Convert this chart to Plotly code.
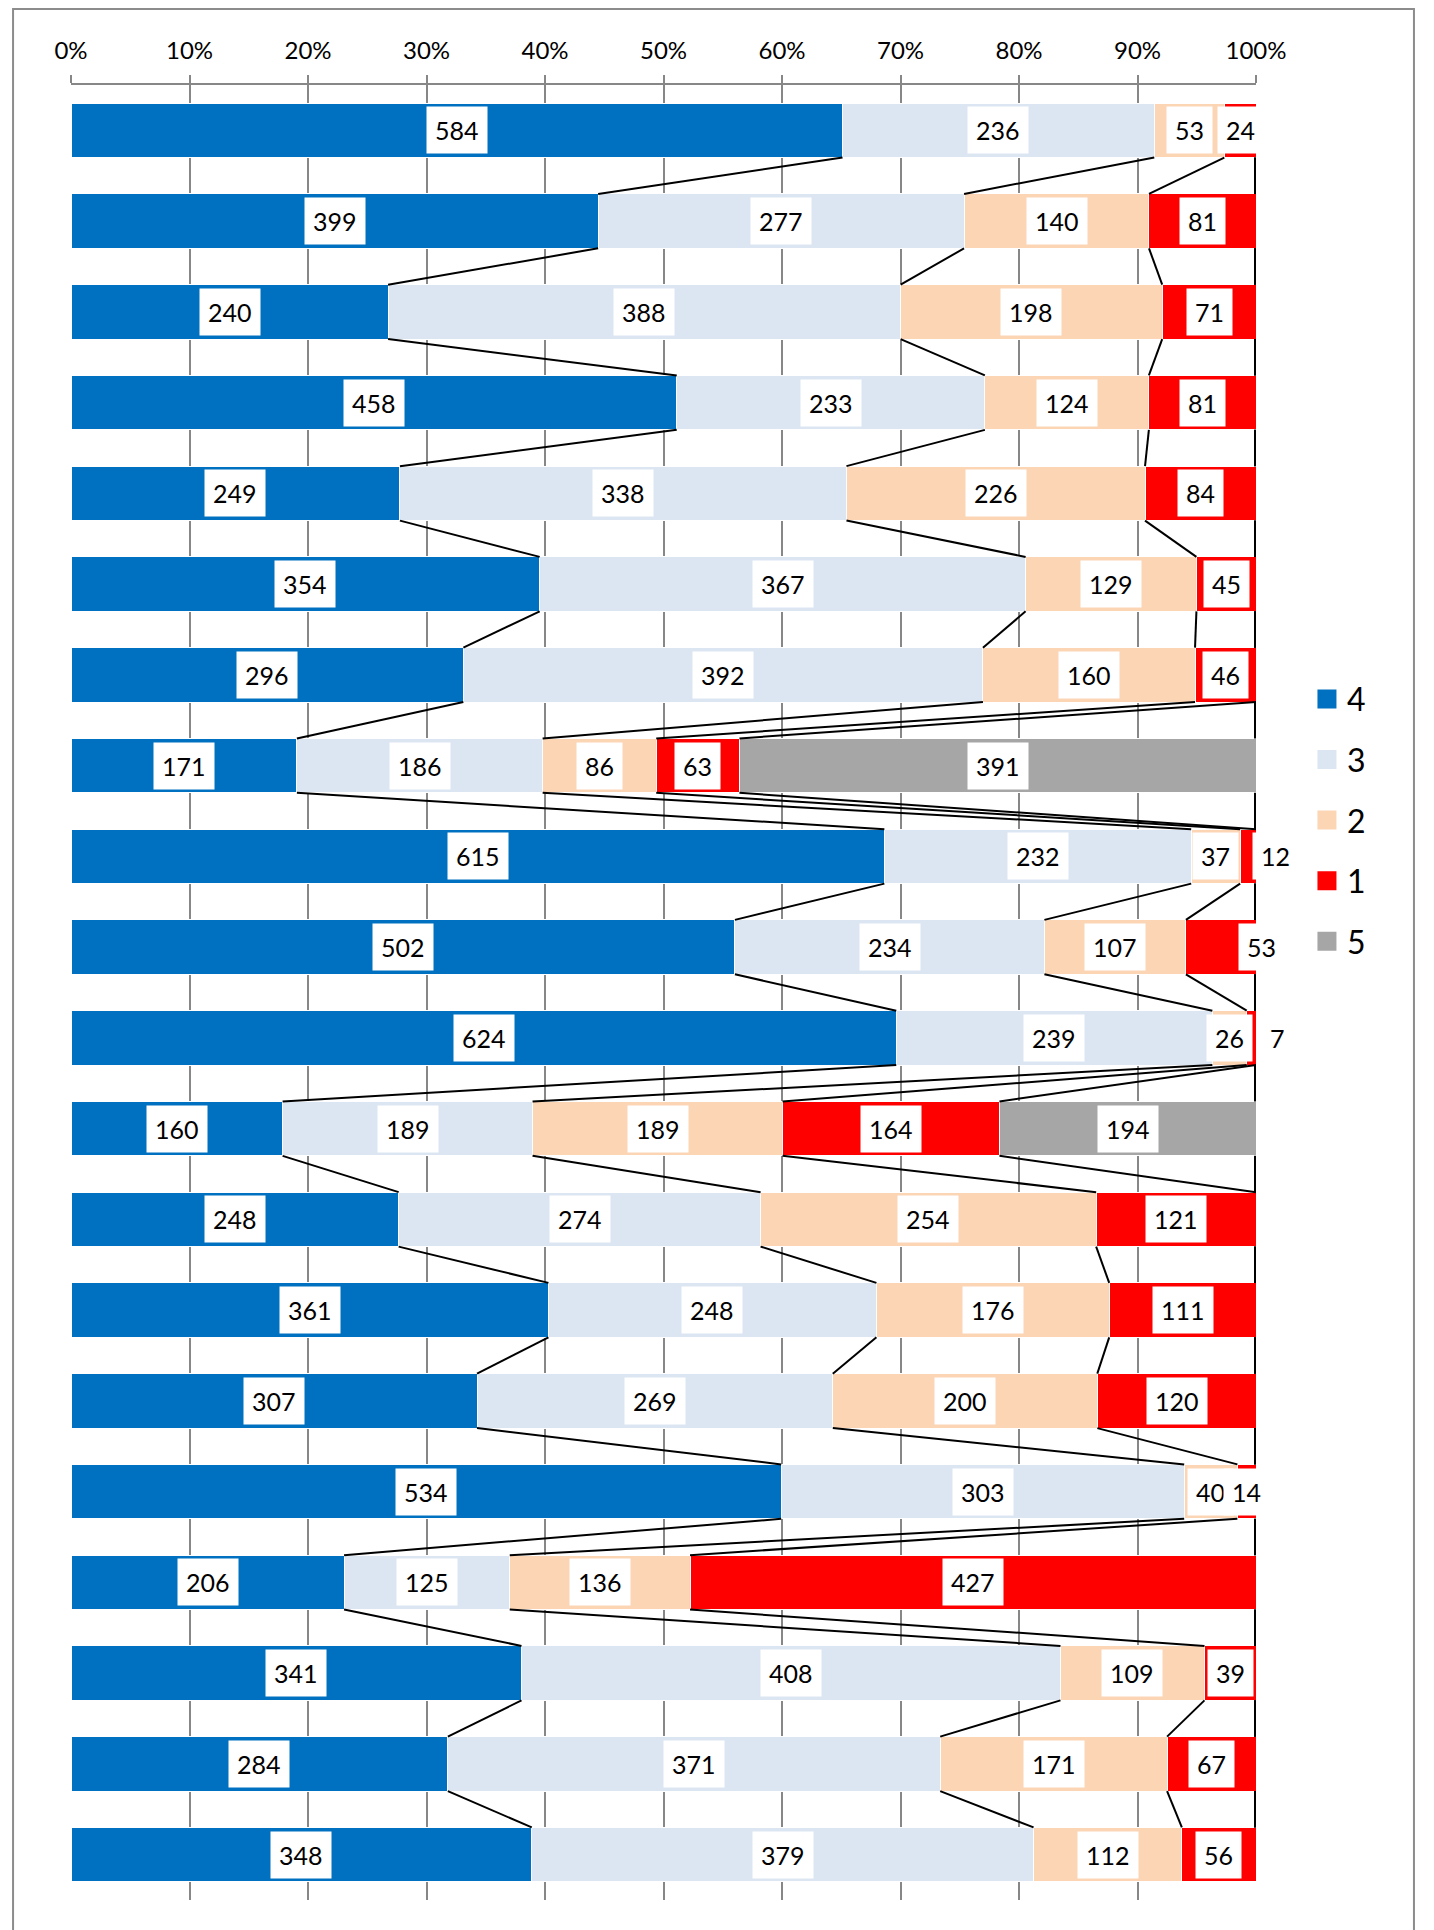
import numpy as np
import plotly.graph_objects as go

# ---- data (top row first) ----
series_names = ["4", "3", "2", "1", "5"]
s4 = [584, 399, 240, 458, 249, 354, 296, 171, 615, 502, 624, 160, 248, 361, 307, 534, 206, 341, 284, 348]
s3 = [236, 277, 388, 233, 338, 367, 392, 186, 232, 234, 239, 189, 274, 248, 269, 303, 125, 408, 371, 379]
s2 = [53, 140, 198, 124, 226, 129, 160, 86, 37, 107, 26, 189, 254, 176, 200, 40, 136, 109, 171, 112]
s1 = [24, 81, 71, 81, 84, 45, 46, 63, 12, 53, 7, 164, 121, 111, 120, 14, 427, 39, 67, 56]
s5 = [0, 0, 0, 0, 0, 0, 0, 391, 0, 0, 0, 194, 0, 0, 0, 0, 0, 0, 0, 0]
tick_values = [0, 10, 20, 30, 40, 50, 60, 70, 80, 90, 100]
tick_labels = ["0%", "10%", "20%", "30%", "40%", "50%", "60%", "70%", "80%", "90%", "100%"]

# ---- styles ----
colors = ["#0070C0", "#DCE6F2", "#FCD5B5", "#FF0000", "#A6A6A6"]
FONT = "Lato"
GRID = "#878787"
BAR_W = 0.6
# manual label offsets (row index, series index) -> pixels
label_shift = {(8, 3): 27, (9, 3): 41, (10, 3): 26}

series = [s4, s3, s2, s1, s5]
vals = np.array(series, dtype=float).T          # rows x series
n = vals.shape[0]
totals = vals.sum(axis=1, keepdims=True)
frac = vals / totals
cum = np.cumsum(frac, axis=1)
ypos = np.arange(n)

fig = go.Figure()

for k, name in enumerate(series_names):
    fig.add_trace(go.Bar(
        x=frac[:, k], y=ypos, orientation="h", width=BAR_W, name=name,
        marker=dict(color=colors[k], line=dict(color="white", width=1)),
        showlegend=False, customdata=vals[:, k],
        hovertemplate=name + ": %{customdata}<extra></extra>",
    ))

# series lines connecting segment ends between consecutive bars
lx, ly = [], []      # sloped / interior lines
ex, ey = [], []      # lines lying on the 100% edge (drawn wider, half is clipped)
hw = BAR_W / 2
for i in range(n - 1):
    for k in range(len(series_names)):
        a, b = cum[i, k], cum[i + 1, k]
        if a > 0.9999 and b > 0.9999:
            ex += [a, b, None]
            ey += [i + hw, i + 1 - hw, None]
        else:
            lx += [a, b, None]
            ly += [i + hw, i + 1 - hw, None]
fig.add_trace(go.Scatter(x=lx, y=ly, mode="lines", line=dict(color="black", width=2),
                         showlegend=False, hoverinfo="skip"))
fig.add_trace(go.Scatter(x=ex, y=ey, mode="lines", line=dict(color="black", width=4),
                         showlegend=False, hoverinfo="skip"))

# legend entries
for k, name in enumerate(series_names):
    fig.add_trace(go.Scatter(
        x=[None], y=[None], mode="markers", name=name, legendgroup=name,
        marker=dict(symbol="square", size=16, color=colors[k], line=dict(color=colors[k], width=3)),
    ))

# data labels
for i in range(n):
    for k in range(len(series_names)):
        v = vals[i, k]
        if v <= 0:
            continue
        fig.add_annotation(
            x=cum[i, k] - frac[i, k] / 2, y=ypos[i], text=str(int(v)),
            showarrow=False, bgcolor="white", borderpad=8,
            font=dict(family=FONT, size=25, color="black"),
            xshift=label_shift.get((i, k), 0),
        )

# outer chart border
fig.add_shape(type="rect", xref="paper", yref="paper",
              x0=-0.0489, x1=1.1333, y0=1.0419, y1=-0.03,
              line=dict(color="#8C8C8C", width=2), fillcolor="rgba(0,0,0,0)", layer="below")

fig.update_layout(
    width=1426, height=1922,
    margin=dict(l=63, r=178, t=77, b=30, autoexpand=False),
    plot_bgcolor="white", paper_bgcolor="white",
    barmode="stack",
    font=dict(family=FONT, color="black"),
    showlegend=True,
    legend=dict(x=1.043, y=0.595, xanchor="left", yanchor="middle",
                font=dict(family=FONT, size=32, color="black"),
                tracegroupgap=16, bgcolor="rgba(0,0,0,0)"),
    xaxis=dict(range=[0, 1], side="top",
               tickvals=[t / 100 for t in tick_values], ticktext=tick_labels,
               ticks="outside", ticklen=8, tickwidth=2, tickcolor=GRID,
               showline=True, linecolor=GRID, linewidth=2,
               showgrid=True, gridcolor=GRID, gridwidth=2, zeroline=False,
               tickfont=dict(family=FONT, size=24, color="black"),
               ticklabelstandoff=6, fixedrange=True),
    yaxis=dict(range=[n - 0.5, -0.5], showticklabels=False, showgrid=False,
               zeroline=False, showline=False, ticks="", fixedrange=True),
)

fig.write_html("out.html")
